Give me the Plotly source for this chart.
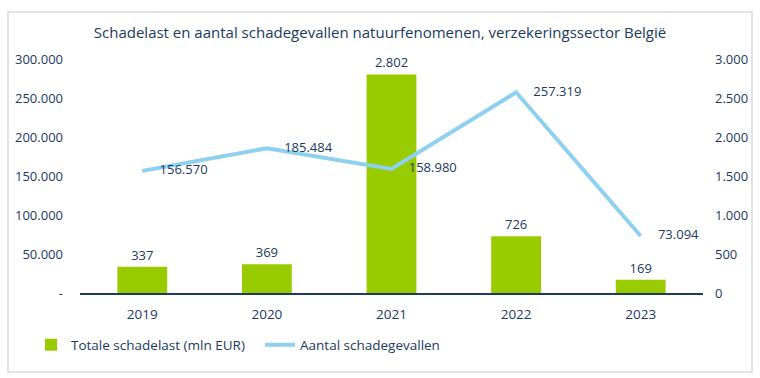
import plotly.graph_objects as go

years = ["2019", "2020", "2021", "2022", "2023"]
schadelast = [337, 369, 2802, 726, 169]
schadegevallen = [156570, 185484, 158980, 257319, 73094]

left_ticks = [0, 50000, 100000, 150000, 200000, 250000, 300000]
left_labels = ["-", "50.000", "100.000", "150.000", "200.000", "250.000", "300.000"]
right_ticks = [0, 500, 1000, 1500, 2000, 2500, 3000]
right_labels = ["0", "500", "1.000", "1.500", "2.000", "2.500", "3.000"]

title = "Schadelast en aantal schadegevallen natuurfenomenen, verzekeringssector België"

def nl(v):
    return f"{v:,}".replace(",", ".")

TXT = "#203A5E"
FONT = "Open Sans"

# Bars (scale 0-3000) drawn on the lower axis so the line is drawn over them.
# The left axis shows the line scale (0-300.000), the right one the bar scale.
fig = go.Figure()
fig.add_trace(go.Bar(
    x=years, y=schadelast, name="Totale schadelast (mln EUR)",
    marker=dict(color="#99CC00", line=dict(width=0)),
    width=0.4, yaxis="y",
    text=[nl(v) for v in schadelast], textposition="outside",
    textfont=dict(color=TXT, size=13, family=FONT), cliponaxis=False,
))
fig.add_trace(go.Scatter(
    x=years, y=schadegevallen, name="Aantal schadegevallen", yaxis="y2",
    mode="lines", line=dict(color="#8DD0F0", width=4),
))
fig.add_trace(go.Scatter(
    x=years, y=schadegevallen, yaxis="y2", showlegend=False, hoverinfo="skip",
    mode="markers+text", marker=dict(size=26, opacity=0, color="#8DD0F0"),
    text=[nl(v) for v in schadegevallen], textposition="middle right",
    textfont=dict(color=TXT, size=13, family=FONT), cliponaxis=False,
))

W, H = 760, 378
L, R, T, B = 80, 57, 59, 85
pw, ph = W - L - R, H - T - B
def px(x): return (x - L) / pw
def py(y): return (H - B - y) / ph

ratio = right_ticks[-1] / left_ticks[-1]

fig.update_layout(
    width=W, height=H,
    margin=dict(l=L, r=R, t=T, b=B, autoexpand=False),
    paper_bgcolor="white", plot_bgcolor="white",
    font=dict(family=FONT, color=TXT, size=13),
    title=dict(text=title, x=0.5, xref="container", xanchor="center",
               y=1 - 33 / H, yref="container", yanchor="middle",
               font=dict(size=15, color=TXT, family=FONT)),
    xaxis=dict(showgrid=False, showline=True, linecolor="#1F3A60", linewidth=1.5,
               ticks="", tickfont=dict(size=13.5, color=TXT), automargin=False,
               ticklabelstandoff=8),
    yaxis=dict(range=[0, right_ticks[-1]], tickvals=[v * ratio for v in left_ticks],
               ticktext=left_labels, side="left",
               showgrid=False, zeroline=False, showline=False, ticks="",
               ticklabelstandoff=16, automargin=False),
    yaxis2=dict(range=[0, left_ticks[-1]], tickvals=[v / ratio for v in right_ticks],
                ticktext=right_labels,
                overlaying="y", side="right", showgrid=False, zeroline=False,
                showline=False, ticks="", ticklabelstandoff=11, automargin=False),
    legend=dict(orientation="h", x=px(31), xanchor="left", y=py(345), yanchor="middle",
                font=dict(size=13.5, color=TXT), bgcolor="rgba(0,0,0,0)",
                traceorder="normal", entrywidth=184, itemwidth=30),
    showlegend=True,
    shapes=[dict(type="rect", xref="paper", yref="paper",
                 x0=px(8), x1=px(752), y0=py(372), y1=py(12),
                 line=dict(color="#D9D9D9", width=1.5), layer="below")],
)

fig.write_html("out.html", config={"displayModeBar": False},
               post_script="document.body.style.margin='0';document.body.style.overflow='hidden';")
